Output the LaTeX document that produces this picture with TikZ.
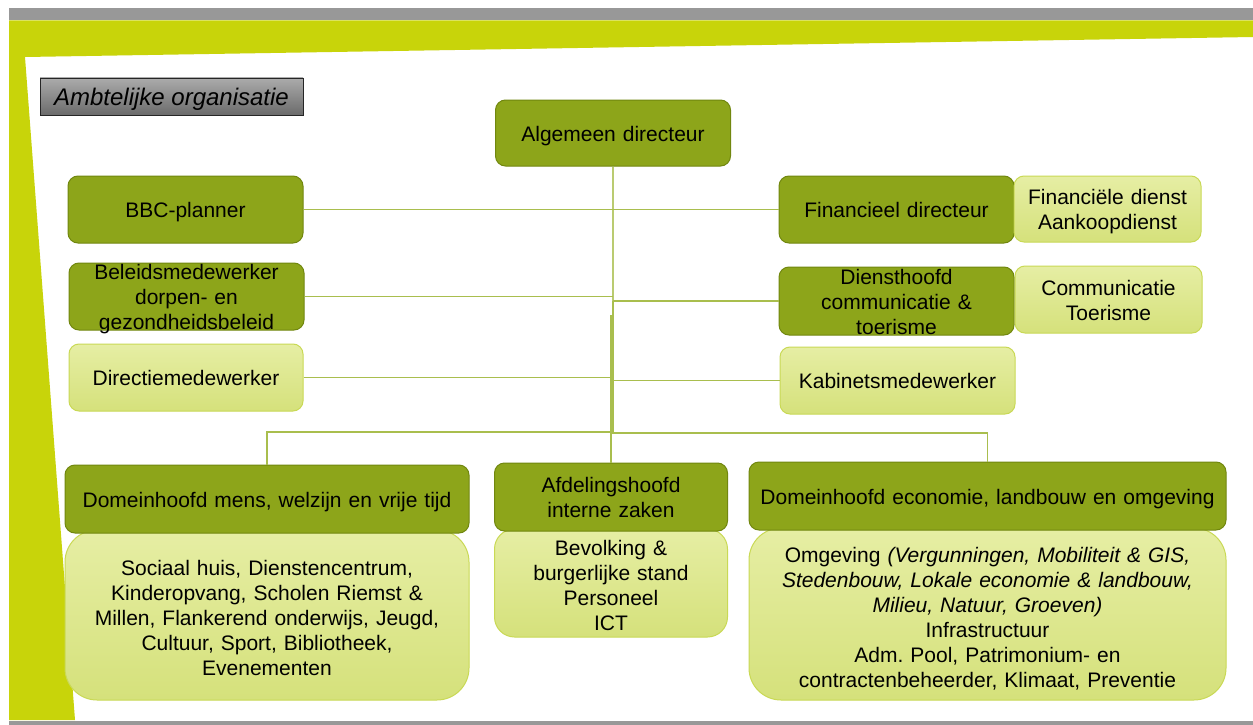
\documentclass[tikz,border=0pt]{standalone}
\usepackage{fontspec}
\setmainfont{Liberation Sans}
\definecolor{band}{HTML}{C8D40A}
\definecolor{graybar}{HTML}{989898}
\definecolor{darkfill}{HTML}{8DA51A}
\definecolor{darkedge}{HTML}{71870F}
\definecolor{lighttop}{HTML}{E6EEA4}
\definecolor{lightbot}{HTML}{D5E17B}
\definecolor{lightedge}{HTML}{C9D955}
\definecolor{conn}{HTML}{A9BE4E}
\newcommand\bxfont{\fontsize{21}{25}\selectfont\frenchspacing}
\tikzset{
  dbox/.style={draw=darkedge, line width=1pt, fill=darkfill, rounded corners=10pt, inner sep=0pt},
  lbox/.style={draw=lightedge, line width=1pt, top color=lighttop, bottom color=lightbot, rounded corners=10pt, inner sep=0pt},
  txt/.style={align=center, text width=480pt, font=\bxfont, inner sep=0pt, yshift=-3pt,
    execute at begin node=\strut, execute at end node=\strut},
  conline/.style={draw=conn, line width=1.1pt},
}
\begin{document}
\begin{tikzpicture}[x=1pt,y=-1pt]
\useasboundingbox (0,0) rectangle (1253,725);
% background frame
\fill[white] (0,0) rectangle (1253,725);
\fill[graybar] (9,8) rectangle (1253,20);
\fill[band] (9,20.5) -- (1253,20.5) -- (1253,37) -- (25,57) -- (75,720) -- (9,720) -- cycle;
\fill[graybar] (9,720.5) rectangle (1253,725);
% title
\node[draw=black!85, line width=0.8pt, top color=black!33, bottom color=black!58, minimum width=263pt, minimum height=37pt, inner sep=0pt] (title) at (171.5,96.5) {};
\node[font=\fontsize{24}{26}\selectfont\itshape, inner sep=0pt, yshift=-2.5pt] (titlet) at (title.center) {Ambtelijke organisatie};

% boxes
\node[dbox, minimum width=235pt, minimum height=66pt] (alg) at (613,133) {};
\node[txt] (algt) at (alg.center) {Algemeen directeur};
\node[dbox, minimum width=235pt, minimum height=67pt] (bbc) at (185.5,209.5) {};
\node[txt] (bbct) at (bbc.center) {BBC-planner};
\node[dbox, minimum width=235pt, minimum height=67pt] (bel) at (186.5,296.5) {};
\node[txt] (belt) at (bel.center) {Beleidsmedewerker\\dorpen- en\\gezondheidsbeleid};
\node[lbox, minimum width=234pt, minimum height=67pt] (dir) at (186,377.5) {};
\node[txt] (dirt) at (dir.center) {Directiemedewerker};
\node[dbox, minimum width=235pt, minimum height=67pt] (fin) at (896.5,209.5) {};
\node[txt] (fint) at (fin.center) {Financieel directeur};
\node[lbox, minimum width=187pt, minimum height=66pt] (fd) at (1107.5,209) {};
\node[txt] (fdt) at (fd.center) {Financiële dienst\\Aankoopdienst};
\node[dbox, minimum width=235pt, minimum height=68pt] (dh) at (896.5,301) {};
\node[txt] (dht) at (dh.center) {Diensthoofd\\communicatie \&\\toerisme};
\node[lbox, minimum width=187pt, minimum height=67pt] (ct) at (1108.5,299.5) {};
\node[txt] (ctt) at (ct.center) {Communicatie\\Toerisme};
\node[lbox, minimum width=235pt, minimum height=67pt] (kab) at (897.5,380.5) {};
\node[txt] (kabt) at (kab.center) {Kabinetsmedewerker};

\node[lbox, rounded corners=32pt, minimum width=404pt, minimum height=170pt] (soc) at (267,615) {};
\node[txt, yshift=-2.5pt] (soct) at (soc.center) {Sociaal huis, Dienstencentrum,\\Kinderopvang, Scholen Riemst \&\\Millen, Flankerend onderwijs, Jeugd,\\Cultuur, Sport, Bibliotheek,\\Evenementen};
\node[dbox, minimum width=404pt, minimum height=68pt] (dom1) at (267,499) {};
\node[txt] (dom1t) at (dom1.center) {Domeinhoofd mens, welzijn en vrije tijd};

\node[lbox, rounded corners=20pt, minimum width=233pt, minimum height=108pt] (bev) at (611,583) {};
\node[txt, yshift=-2pt] (bevt) at (bev.center) {Bevolking \&\\burgerlijke stand\\Personeel\\ICT};
\node[dbox, minimum width=233pt, minimum height=68pt] (afd) at (611,497) {};
\node[txt] (afdt) at (afd.center) {Afdelingshoofd\\interne zaken};

\node[lbox, rounded corners=32pt, minimum width=477pt, minimum height=172pt] (omg) at (987.5,614) {};
\node[txt, yshift=-2.5pt] (omgt) at (omg.center) {Omgeving \textit{(Vergunningen, Mobiliteit \& GIS,}\\\textit{Stedenbouw, Lokale economie \& landbouw,}\\\textit{Milieu, Natuur, Groeven)}\\Infrastructuur\\Adm. Pool, Patrimonium- en\\contractenbeheerder, Klimaat, Preventie};
\node[dbox, minimum width=477pt, minimum height=68pt] (dom2) at (987.5,496) {};
\node[txt] (dom2t) at (dom2.center) {Domeinhoofd economie, landbouw en omgeving};

% junctions
\coordinate (ja) at (613,316);
\coordinate (jb) at (611,316);
\coordinate (jc) at (613,301);
\coordinate (jd) at (613,433);
\coordinate (je) at (987.5,433);
\coordinate (jf) at (611,432);
\coordinate (jg) at (267,432);

% connectors
\draw[conline] (alg.south) -- (ja) -- (jb) -- (afd.north);
\draw[conline, line width=2pt, draw=conn!80] (alg.south) -- (ja);
\draw[conline] (bbc.east) -- (fin.west);
\draw[conline] (bel.east) -- (bel.east -| ja);
\draw[conline] (dh.west -| jc) -- (dh.west);
\draw[conline] (jc) -- (jd) -- (je) -- (dom2.north);
\draw[conline] (dir.east) -- (dir.east -| jb);
\draw[conline] (kab.west -| ja) -- (kab.west);
\draw[conline] (jf) -- (jg) -- (dom1.north);
\end{tikzpicture}
\end{document}
